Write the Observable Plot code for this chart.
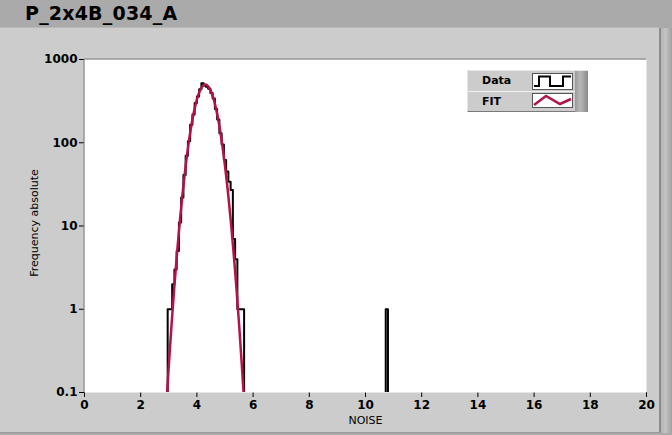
<!DOCTYPE html>
<html>
<head>
<meta charset="utf-8">
<script src="https://cdn.jsdelivr.net/npm/d3@7"></script>
<script src="https://cdn.jsdelivr.net/npm/@observablehq/plot@0.6"></script>
<style>
  html, body { margin: 0; padding: 0; background: #aaaaaa; }
  #wrap { position: relative; width: 672px; height: 435px; overflow: hidden; background: #aaaaaa; font-family: "DejaVu Sans", sans-serif; }
  #title { position: absolute; left: 25px; top: 2px; font: bold 19px "DejaVu Sans", sans-serif; color: #000; letter-spacing: 0.2px; }
  #panel { position: absolute; left: 0; top: 27px; width: 659px; height: 405px; background: #cccccc; border-top: 1px solid #b8b8b8; }
  #rline { position: absolute; left: 659px; top: 28px; width: 2px; height: 405px; background: #8c8c8c; }
  #rstrip { position: absolute; left: 661px; top: 28px; width: 11px; height: 405px; background: linear-gradient(to right, #b4b4b4, #c4c4c4 40%, #a0a0a0); }
  #bline { position: absolute; left: 0; top: 432px; width: 661px; height: 1px; background: #999999; }
  #chart { position: absolute; left: 0; top: 0; }
  #legend { position: absolute; left: 467px; top: 70px; width: 121px; height: 42px; background: #cccccc; border-top: 1px solid #e6e6e6; border-left: 1px solid #e6e6e6; border-bottom: 1px solid #7a7a7a; box-sizing: border-box; }
  #legend .row { position: absolute; left: 0; width: 108px; height: 20px; }
  #legend .lab { position: absolute; left: 14px; top: 3px; font: bold 11px "DejaVu Sans", sans-serif; color: #000; }
  #legend .sw { position: absolute; left: 64px; width: 41px; background: #fff; border: 1px solid #555; box-sizing: border-box; }
  #legend .sep { position: absolute; left: 0; top: 20px; width: 108px; height: 1px; background: #f0f0f0; }
  #legend .bar { position: absolute; left: 107px; top: 0; width: 13px; height: 41px; background: linear-gradient(to right, #9a9a9a, #b8b8b8 40%, #8a8a8a); }
</style>
</head>
<body>
<div id="wrap">
  <div id="title">P_2x4B_034_A</div>
  <div id="panel"></div>
  <div id="rline"></div>
  <div id="rstrip"></div>
  <div id="bline"></div>
  <div id="chart"></div>
  <div id="legend">
    <div class="row" style="top:0">
      <div class="lab">Data</div>
      <div class="sw" style="top:2px;height:17px">
        <svg width="39" height="15" style="display:block"><path d="M1,12 H6 V2.5 H17 V12 H30 V2.5 H38" fill="none" stroke="#000" stroke-width="2"/></svg>
      </div>
    </div>
    <div class="sep"></div>
    <div class="row" style="top:21px">
      <div class="lab" style="top:3px">FIT</div>
      <div class="sw" style="top:1px;height:15px">
        <svg width="39" height="13" style="display:block"><path d="M1,11 L13,2 L27,10 L38,5" fill="none" stroke="#b3124a" stroke-width="2.5"/></svg>
      </div>
    </div>
    <div class="bar"></div>
  </div>
</div>
<script>
// Axis ticks
const xTicks = [0, 2, 4, 6, 8, 10, 12, 14, 16, 18, 20];
const yTicks = [0.1, 1, 10, 100, 1000];

// Histogram (Data): bins of equal width starting at binStart
const binStart = 2.96;
const binWidth = 0.08;
const counts = [1, 1, 2, 3, 5, 11, 22, 41, 70, 104,
                165, 218, 300, 360, 440, 520, 488, 470, 445, 395,
                340, 255, 190, 130, 95, 62, 45, 34, 27, 7,
                4, 1, 1, 1];
// Isolated outlier bin
const outlierStart = 10.72;
const outlierCount = 1;

// Fit curve
const fitX = [2.9, 3.0, 3.1, 3.2, 3.3, 3.4, 3.5, 3.6, 3.7, 3.8, 3.9, 4.0, 4.1, 4.2, 4.3,
              4.4, 4.5, 4.6, 4.7, 4.8, 4.9, 5.0, 5.1, 5.2, 5.3, 5.4, 5.5, 5.6, 5.7];
const fitY = [0.062, 0.21, 0.67, 1.93, 5.07, 12.1, 26.5, 52.7, 95.8, 158.7, 239.8, 330.8, 416, 477.5, 500,
              477.5, 416, 330.8, 239.8, 158.7, 95.8, 52.7, 26.5, 12.1, 5.07, 1.93, 0.67, 0.21, 0.062];

// Build step outline (baseline below the log domain so the edges reach the bottom)
const base = 0.05;
function outline(start, width, values, seg) {
  const pts = [{x: start, y: base, seg}];
  values.forEach((v, i) => pts.push({x: start + i * width, y: v, seg}));
  pts.push({x: start + values.length * width, y: base, seg});
  return pts;
}
const stepPts = [
  ...outline(binStart, binWidth, counts, "main"),
  ...outline(outlierStart, binWidth, [outlierCount], "outlier")
];
const fitPts = fitX.map((x, i) => ({x, y: fitY[i]}));

const chart = Plot.plot({
  width: 672,
  height: 435,
  marginLeft: 84,
  marginRight: 26,
  marginTop: 59,
  marginBottom: 43,
  style: {background: "transparent", fontFamily: "DejaVu Sans, sans-serif", fontSize: "12px", fontWeight: "bold", color: "#000", overflow: "visible"},
  x: {domain: [0, 20], ticks: xTicks, tickSize: 5, tickPadding: 3, label: null},
  y: {type: "log", domain: [0.1, 1000], ticks: yTicks, tickFormat: d => String(d), tickSize: 5, tickPadding: 2, label: null},
  marks: [
    Plot.frame({fill: "white", stroke: null}),
    Plot.ruleX([0], {stroke: "#7a7a7a", strokeWidth: 1, dx: -0.5}),
    Plot.ruleY([1000], {stroke: "#7a7a7a", strokeWidth: 1, dy: -0.5}),
    Plot.line(stepPts, {x: "x", y: "y", z: "seg", curve: "step-after", stroke: "#000", strokeWidth: 2, clip: true}),
    Plot.line(fitPts, {x: "x", y: "y", curve: "monotone-x", stroke: "#b3124a", strokeWidth: 2.5, clip: true}),
    Plot.text(["NOISE"], {text: d => d, frameAnchor: "bottom", dy: 31, fontWeight: "normal", fontSize: 11, fill: "#000"}),
    Plot.text(["Frequency absolute"], {text: d => d, frameAnchor: "left", dx: -50, dy: -3, rotate: -90, textAnchor: "middle", fontWeight: "normal", fontSize: 11, fill: "#000"})
  ]
});
document.getElementById("chart").appendChild(chart);
</script>
</body>
</html>
